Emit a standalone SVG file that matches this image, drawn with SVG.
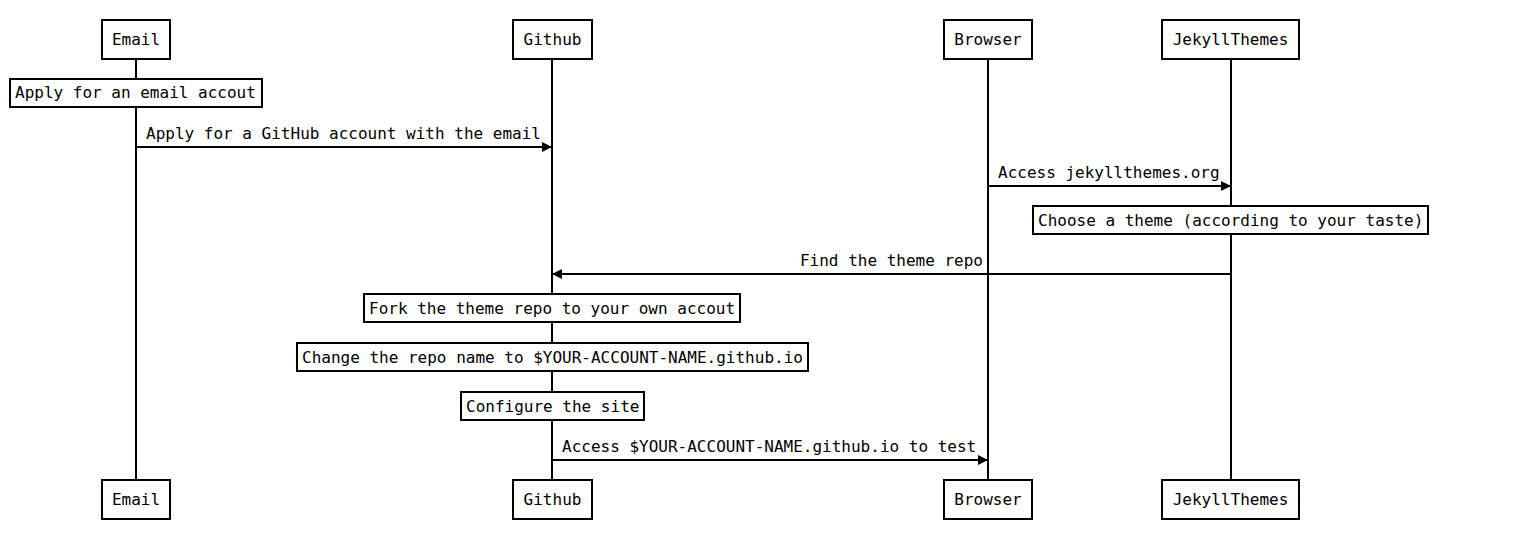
<svg xmlns="http://www.w3.org/2000/svg" width="1538" height="539" viewBox="0 0 1538 539">
<style>
text{font-family:"DejaVu Sans Mono",monospace;font-size:16px;fill:#000}
.box{fill:#fff;stroke:#000;stroke-width:2}
.life{stroke:#000;stroke-width:2}
.msg{stroke:#000;stroke-width:2;fill:none}
.c{text-anchor:middle}
</style>
<defs>
<marker id="ah" viewBox="0 0 10 10" refX="10" refY="5" markerWidth="10" markerHeight="10" markerUnits="userSpaceOnUse" orient="auto"><path d="M0,0L10,5L0,10z" fill="#000"/></marker>
</defs>
<rect width="1538" height="539" fill="#fff"/>
<g id="lifelines">
<line class="life" x1="136" y1="59" x2="136" y2="480"/>
<line class="life" x1="552" y1="59" x2="552" y2="480"/>
<line class="life" x1="988" y1="59" x2="988" y2="480"/>
<line class="life" x1="1231" y1="59" x2="1231" y2="480"/>
</g>
<g id="Email"><rect class="box" x="102" y="20" width="68" height="39"/><text class="c" x="136" y="45">Email</text></g>
<g id="Github"><rect class="box" x="513" y="20" width="79" height="39"/><text class="c" x="552.5" y="45">Github</text></g>
<g id="Browser"><rect class="box" x="944" y="20" width="88" height="39"/><text class="c" x="988" y="45">Browser</text></g>
<g id="JekyllThemes"><rect class="box" x="1162" y="20" width="137" height="39"/><text class="c" x="1230.5" y="45">JekyllThemes</text></g>
<g id="Email-bottom"><rect class="box" x="102" y="480" width="68" height="39"/><text class="c" x="136" y="505">Email</text></g>
<g id="Github-bottom"><rect class="box" x="513" y="480" width="79" height="39"/><text class="c" x="552.5" y="505">Github</text></g>
<g id="Browser-bottom"><rect class="box" x="944" y="480" width="88" height="39"/><text class="c" x="988" y="505">Browser</text></g>
<g id="JekyllThemes-bottom"><rect class="box" x="1162" y="480" width="137" height="39"/><text class="c" x="1230.5" y="505">JekyllThemes</text></g>
<g id="note-email"><rect class="box" x="10" y="79" width="252" height="28"/><text x="15" y="98">Apply for an email accout</text></g>
<g id="note-theme"><rect class="box" x="1033" y="206" width="395" height="28"/><text x="1038" y="226">Choose a theme (according to your taste)</text></g>
<g id="note-fork"><rect class="box" x="364" y="294" width="376" height="28"/><text x="369" y="314">Fork the theme repo to your own accout</text></g>
<g id="note-rename"><rect class="box" x="297" y="343" width="511" height="28"/><text x="302" y="363">Change the repo name to $YOUR-ACCOUNT-NAME.github.io</text></g>
<g id="note-config"><rect class="box" x="461" y="392" width="183" height="28"/><text x="466" y="412">Configure the site</text></g>
<g id="connectors">
<line class="msg" x1="136" y1="147" x2="552" y2="147" marker-end="url(#ah)"/>
<text x="146" y="139">Apply for a GitHub account with the email</text>
<line class="msg" x1="988" y1="186" x2="1231" y2="186" marker-end="url(#ah)"/>
<text x="998" y="178">Access jekyllthemes.org</text>
<line class="msg" x1="1231" y1="274" x2="552" y2="274" marker-end="url(#ah)"/>
<text x="983" y="266" text-anchor="end">Find the theme repo</text>
<line class="msg" x1="552" y1="460" x2="988" y2="460" marker-end="url(#ah)"/>
<text x="562" y="452">Access $YOUR-ACCOUNT-NAME.github.io to test</text>
</g>
</svg>
